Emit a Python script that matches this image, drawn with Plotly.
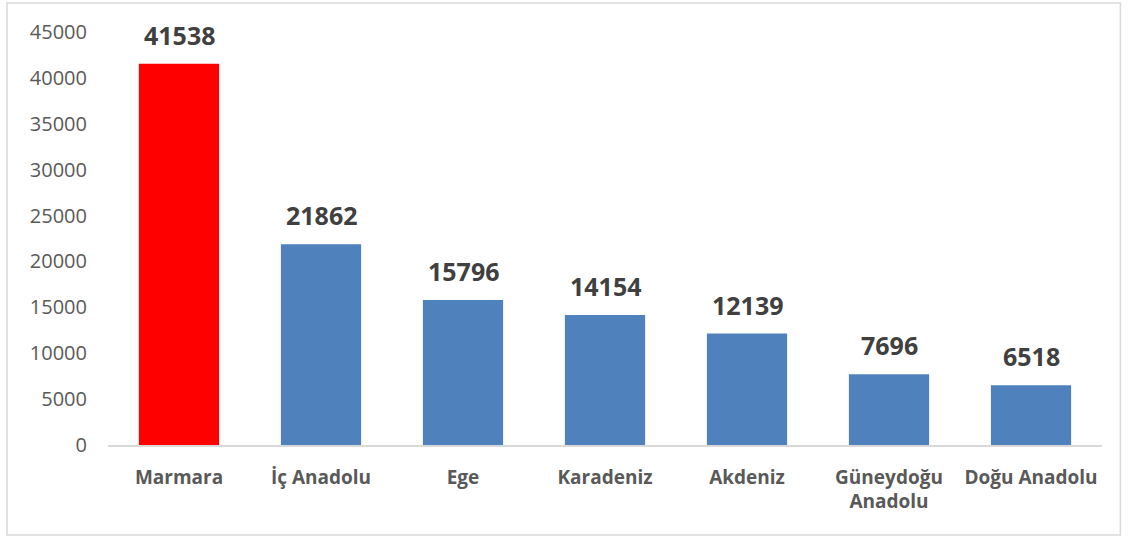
import plotly.graph_objects as go

# Bölgeler ve değerler
bolgeler = ["Marmara", "İç Anadolu", "Ege", "Karadeniz", "Akdeniz", "Güneydoğu<br>Anadolu", "Doğu Anadolu"]
degerler = [41538, 21862, 15796, 14154, 12139, 7696, 6518]
renkler = ["#FF0000"] + ["#4F81BD"] * 6
y_ticks = [0, 5000, 10000, 15000, 20000, 25000, 30000, 35000, 40000, 45000]

FONT = "Open Sans, Liberation Sans, sans-serif"

fig = go.Figure(go.Bar(
    x=bolgeler,
    y=degerler,
    marker=dict(color=renkler, line=dict(width=0)),
    hoverinfo="x+y",
))

# Değer etiketleri
for b, v in zip(bolgeler, degerler):
    fig.add_annotation(
        x=b, y=v, text=f"<b>{v}</b>", showarrow=False,
        yanchor="bottom", yshift=10,
        font=dict(size=25, color="#404040", family=FONT),
    )

# Grafik çerçevesi
fig.add_shape(
    type="rect", xref="paper", yref="paper",
    x0=-0.1016, x1=1.0185, y0=-0.218, y1=1.07,
    line=dict(color="#D9D9D9", width=1.5), layer="below",
)

fig.update_layout(
    width=1128, height=538,
    margin=dict(l=108, r=26, t=32, b=93),
    paper_bgcolor="white", plot_bgcolor="white",
    bargap=0.435,
    showlegend=False,
    font=dict(family=FONT, color="#595959"),
    xaxis=dict(
        showline=True, linecolor="#D9D9D9", linewidth=1.5,
        showgrid=False, ticks="", automargin=False,
        tickfont=dict(size=19, color="#595959", family=FONT, weight="bold"),
        ticklabelstandoff=14,
    ),
    yaxis=dict(
        range=[0, 45000], tickvals=y_ticks,
        ticktext=[str(t) for t in y_ticks],
        showgrid=False, showline=False, zeroline=False, ticks="",
        automargin=False,
        tickfont=dict(size=20, color="#595959", family=FONT),
        ticklabelstandoff=20,
    ),
)

# sayfa kenar boşluğunu kaldır
fig.write_html("out.html", config={"displayModeBar": False},
               post_script="document.body.style.margin='0';")
